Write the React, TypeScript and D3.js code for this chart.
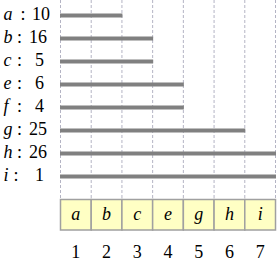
import React, { useEffect, useRef } from 'react';
import * as d3 from 'd3';

const letters = ['a', 'b', 'c', 'e', 'f', 'g', 'h', 'i'];
const counts = [10, 16, 5, 6, 4, 25, 26, 1];
const ends = [2, 3, 3, 4, 4, 6, 7, 7];
const boxLetters = ['a', 'b', 'c', 'e', 'g', 'h', 'i'];
const columns = [1, 2, 3, 4, 5, 6, 7];

const FONT = 'Liberation Serif';

const App = () => {
    const ref = useRef<SVGGElement>(null);

    useEffect(() => {
        const svg = d3.select(ref.current);
        svg.selectAll('*').remove();

        const x = d3.scaleLinear().domain([0, 7]).range([60.5, 275.5]);
        const y = d3.scalePoint<string>().domain(letters).range([15.5, 176.5]);
        const step = x(1) - x(0);

        // dashed column lines
        svg.append('g')
            .selectAll('line')
            .data(d3.range(0, 8))
            .enter().append('line')
            .attr('x1', d => x(d))
            .attr('x2', d => x(d))
            .attr('y1', 0)
            .attr('y2', 199)
            .attr('stroke', '#b4b4c4')
            .attr('stroke-width', 1)
            .attr('stroke-dasharray', '3,2');

        // bars
        svg.append('g')
            .selectAll('line')
            .data(letters)
            .enter().append('line')
            .attr('x1', x(0) - 0.5)
            .attr('x2', (d, i) => x(ends[i]) + 0.5)
            .attr('y1', d => y(d)!)
            .attr('y2', d => y(d)!)
            .attr('stroke', '#808080')
            .attr('stroke-width', 4);

        // row labels: letter, colon, right-aligned count
        const row = svg.append('g')
            .selectAll('g')
            .data(letters)
            .enter().append('g')
            .attr('transform', d => `translate(0,${y(d)! + 4.5})`);
        row.append('text')
            .attr('x', 3.5)
            .attr('font-family', FONT)
            .attr('font-size', 18)
            .attr('font-style', 'italic')
            .text(d => d);
        row.append('text')
            .attr('x', (d, i) => d === 'a' ? 23 : d === 'i' ? 16 : 19.5)
            .attr('font-family', FONT)
            .attr('font-size', 18)
            .attr('text-anchor', 'middle')
            .text(':');
        row.append('text')
            .attr('x', (d, i) => counts[i] < 10 ? 44 : d === 'a' ? 50 : 47)
            .attr('font-family', FONT)
            .attr('font-size', 18)
            .attr('text-anchor', 'end')
            .text((d, i) => counts[i]);

        // boxes
        const boxTop = 199.5, boxH = 30.5;
        const box = svg.append('g')
            .selectAll('g')
            .data(boxLetters)
            .enter().append('g');
        box.append('rect')
            .attr('x', (d, i) => x(i))
            .attr('y', boxTop)
            .attr('width', step)
            .attr('height', boxH)
            .attr('fill', '#ffffc4')
            .attr('stroke', '#a0a0a0')
            .attr('stroke-width', 1.5);
        box.append('text')
            .attr('x', (d, i) => x(i) + step / 2)
            .attr('y', boxTop + boxH / 2 + 5)
            .attr('text-anchor', 'middle')
            .attr('font-family', FONT)
            .attr('font-style', 'italic')
            .attr('font-size', 18)
            .text(d => d);

        // column numbers
        svg.append('g')
            .selectAll('text')
            .data(columns)
            .enter().append('text')
            .attr('x', d => x(d - 1) + step / 2)
            .attr('y', 258)
            .attr('text-anchor', 'middle')
            .attr('font-family', FONT)
            .attr('font-size', 18)
            .text(d => d);
    }, []);

    return (
        <svg width={277} height={268}
            style={{ position: 'absolute', left: 0, top: 0, background: '#fff' }}>
            <g ref={ref}></g>
        </svg>
    );
};

export default App;
